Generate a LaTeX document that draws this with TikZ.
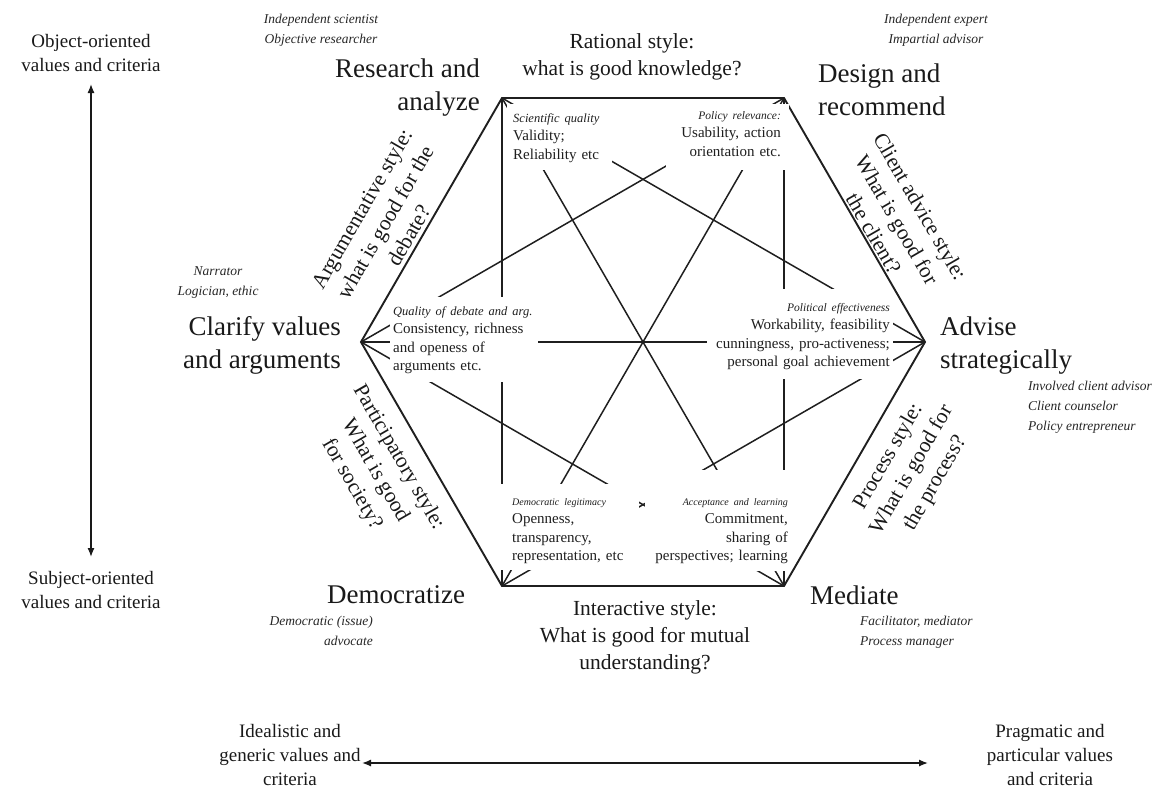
\documentclass[tikz,border=0pt]{standalone}
\usepackage{fontspec}
\setmainfont{Liberation Serif}
\usetikzlibrary{arrows.meta}
% small italic heading inside a criteria block (optional size)
\newcommand\crithead[2][12.5]{{\fontsize{#1}{18.5}\selectfont\itshape #2}}
\begin{document}
\begin{tikzpicture}[x=1pt,y=-1pt,
  hexedge/.style={draw=black!88, line width=1.9pt, line join=miter},
  diag/.style={draw=black!88, line width=1.5pt},
  crit/.style={fill=white, inner ysep=0pt, text=black!88,
               font=\fontsize{15}{18.5}\selectfont},
  big/.style={font=\fontsize{27}{33.5}\selectfont, inner sep=0pt, text=black!90},
  stylelab/.style={font=\fontsize{21.5}{27}\selectfont, inner sep=0pt, text=black!90, align=center},
  role/.style={font=\fontsize{13.5}{20}\selectfont\itshape, inner sep=0pt, text=black!85},
  axislab/.style={font=\fontsize{19}{24}\selectfont, inner sep=0pt, text=black!90, align=center},
  axisarrow/.style={draw=black!90, line width=1.3pt, {Latex[length=9pt,width=7pt]}-{Latex[length=9pt,width=7pt]}}
]
\useasboundingbox (0,0) rectangle (1159,800);

% corners of the hexagon
\coordinate (TL) at (502,98);
\coordinate (TR) at (784,98);
\coordinate (R)  at (925,342);
\coordinate (BR) at (784,586);
\coordinate (BL) at (502,586);
\coordinate (L)  at (361,342);

% all diagonals between the six activities
\foreach \a/\b in {TL/BL,TL/BR,TL/R,TR/L,TR/BL,TR/BR,L/R,L/BR,R/BL}
  \draw[diag] (\a) -- (\b);

% outline
\draw[hexedge] (TL) -- (TR) -- (R) -- (BR) -- (BL) -- (L) -- cycle;

% quality criteria, white blocks over the diagonals
\node[crit, align=left, text width=93pt, inner xsep=6pt, text height=18pt, text depth=48pt,
      anchor=base west] (sci) at (507,122)
  {\crithead{Scientific quality}\\Validity;\\Reliability etc};
\node[crit, align=right, text width=107pt, inner xsep=8pt, text height=15pt, text depth=51pt,
      anchor=base east] (pol) at (789,119)
  {\crithead[11.5]{Policy relevance:}\\Usability, action\\orientation etc.};
\node[crit, align=left, text width=142pt, inner xsep=3pt, text height=18pt, text depth=67pt,
      anchor=base west] (qual) at (390,315)
  {\crithead{Quality of debate and arg.}\\Consistency, richness\\and openess of\\arguments etc.};
\node[crit, align=right, text width=180pt, inner xsep=3pt, text height=22pt, text depth=68pt,
      anchor=base east] (polit) at (893,311)
  {\crithead[11.5]{Political effectiveness}\\Workability, feasibility\\cunningness, pro-activeness;\\personal goal achievement};
\node[crit, align=left, text width=114pt, inner xsep=13pt, text height=21pt, text depth=65pt,
      anchor=base west] (demo) at (499,505)
  {\crithead[10]{Democratic legitimacy}\\Openness,\\transparency,\\representation, etc};
\node[crit, align=right, text width=140pt, inner xsep=3pt, text height=35pt, text depth=66pt,
      anchor=base east] (accept) at (791,505)
  {\crithead[10]{Acceptance and learning}\\Commitment,\\sharing of\\perspectives; learning};

% activities at the corners (multi-line nodes sit on their last baseline)
\node[big, align=right, anchor=base east] (research) at (480,110.5) {Research and\\analyze};
\node[big, align=left, anchor=base west] (design) at (818,115.5) {Design and\\recommend};
\node[big, align=right, anchor=base east] (clarify) at (341,368.5) {Clarify values\\and arguments};
\node[big, align=left, anchor=base west] (advise) at (940,368.5) {Advise\\strategically};
\node[big, anchor=base west] (democratize) at (327,603) {Democratize};
\node[big, anchor=base west] (mediate) at (810,604) {Mediate};

% roles
\node[role, align=center, anchor=base] (rolesci) at (321,44) {Independent scientist\\Objective researcher};
\node[role, align=center, anchor=base] (roleexp) at (936,44) {Independent expert\\Impartial advisor};
\node[role, align=center, anchor=base] (rolenar) at (218,295) {Narrator\\Logician, ethic};
\node[role, align=left, anchor=base west] (roleclient) at (1028,430)
  {Involved client advisor\\Client counselor\\Policy entrepreneur};
\node[role, align=right, anchor=base east] (roledem) at (373,645) {Democratic (issue)\\advocate};
\node[role, align=left, anchor=base west] (rolefac) at (860,645) {Facilitator, mediator\\Process manager};

% styles along the edges
\node[stylelab, anchor=base] (rational) at (632,75) {Rational style:\\what is good knowledge?};
\node[stylelab, anchor=base] (interactive) at (645,669) {Interactive style:\\What is good for mutual\\understanding?};
\node[stylelab, rotate=60] (argumentative) at (385,222) {Argumentative style:\\what is good for the\\debate?};
\node[stylelab, rotate=-60] (clientadv) at (897,220) {Client advice style:\\What is good for\\the client?};
\node[stylelab, rotate=-60] (participatory) at (375,471) {Participatory style:\\What is good\\for society?};
\node[stylelab, rotate=60] (process) at (912,470) {Process style:\\What is good for\\the process?};

% value axes
\node[axislab, anchor=base] (objlab) at (91,71) {Object-oriented\\values and criteria};
\node[axislab, anchor=base] (subjlab) at (91,608) {Subject-oriented\\values and criteria};
\coordinate (vtop) at (91,84);
\coordinate (vbot) at (91,557);
\draw[axisarrow] (vtop) -- (vbot);

\node[axislab, anchor=base] (ideal) at (290,785) {Idealistic and\\generic values and\\criteria};
\node[axislab, anchor=base] (prag) at (1050,785) {Pragmatic and\\particular values\\and criteria};
\coordinate (hleft) at (362,763);
\coordinate (hright) at (928,763);
\draw[axisarrow] (hleft) -- (hright);
\end{tikzpicture}
\end{document}
